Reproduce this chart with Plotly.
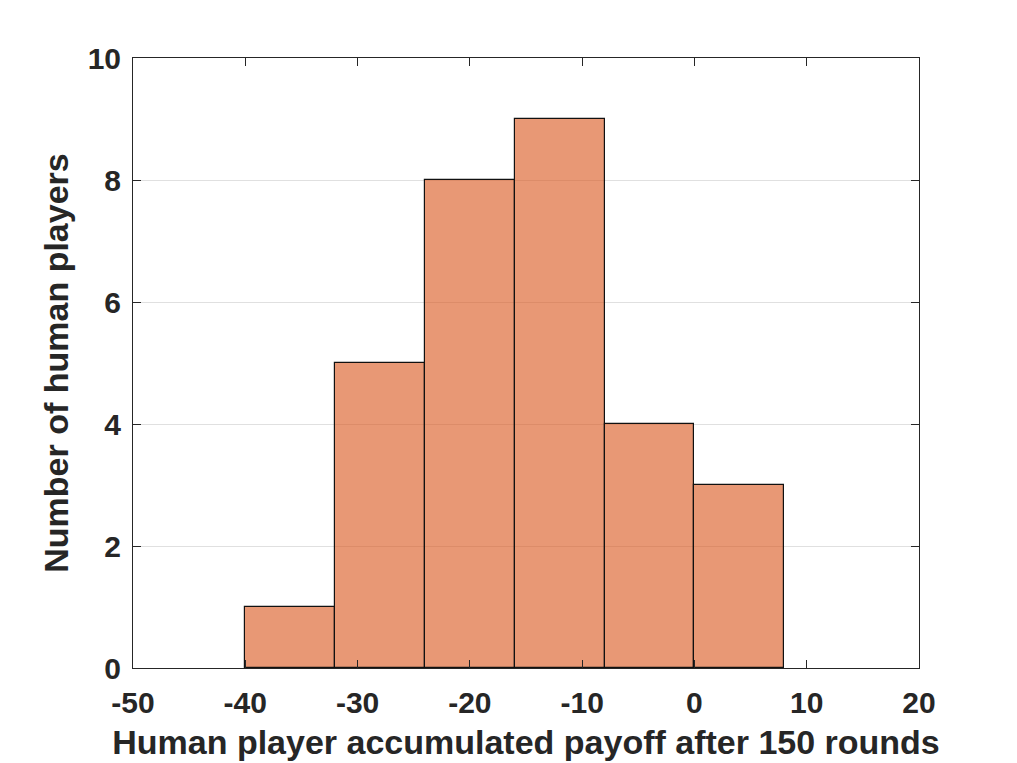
import plotly.graph_objects as go

# histogram bins and counts
bin_edges = [-40, -32, -24, -16, -8, 0, 8]
counts = [1, 5, 8, 9, 4, 3]

x_ticks = [-50, -40, -30, -20, -10, 0, 10, 20]
y_ticks = [0, 2, 4, 6, 8, 10]

centers = [(a + b) / 2 for a, b in zip(bin_edges[:-1], bin_edges[1:])]
widths = [b - a for a, b in zip(bin_edges[:-1], bin_edges[1:])]

font_family = "Liberation Sans, Arial, sans-serif"
frame_color = "#262626"

fig = go.Figure()
fig.add_trace(go.Bar(
    x=centers,
    y=counts,
    width=widths,
    marker=dict(color="rgba(217,83,25,0.6)",
                line=dict(color="#111111", width=1.2)),
    showlegend=False,
))

fig.update_layout(
    width=1017, height=763,
    margin=dict(l=125, r=106, t=50, b=103),
    plot_bgcolor="white",
    paper_bgcolor="white",
    font=dict(family=font_family, color=frame_color),
    bargap=0,
)

fig.update_xaxes(
    range=[-50, 20],
    tickvals=x_ticks,
    ticktext=[str(v) for v in x_ticks],
    tickfont=dict(size=30, family=font_family, weight="bold"),
    ticklabelstandoff=8,
    title=dict(text="<b>Human player accumulated payoff after 150 rounds</b>",
               font=dict(size=34), standoff=12),
    showline=True, linecolor=frame_color, linewidth=1, mirror="ticks",
    ticks="inside", ticklen=8, tickcolor=frame_color,
    showgrid=False, zeroline=False,
)
fig.update_yaxes(
    range=[0, 10],
    tickvals=y_ticks,
    tickfont=dict(size=30, family=font_family, weight="bold"),
    ticklabelstandoff=5,
    title=dict(text="<b>Number of human players</b>", font=dict(size=34), standoff=8),
    showline=True, linecolor=frame_color, linewidth=1, mirror="ticks",
    ticks="inside", ticklen=8, tickcolor=frame_color,
    showgrid=True, gridcolor="#e0e0e0", gridwidth=1, zeroline=False,
)

fig.write_html("out.html")
